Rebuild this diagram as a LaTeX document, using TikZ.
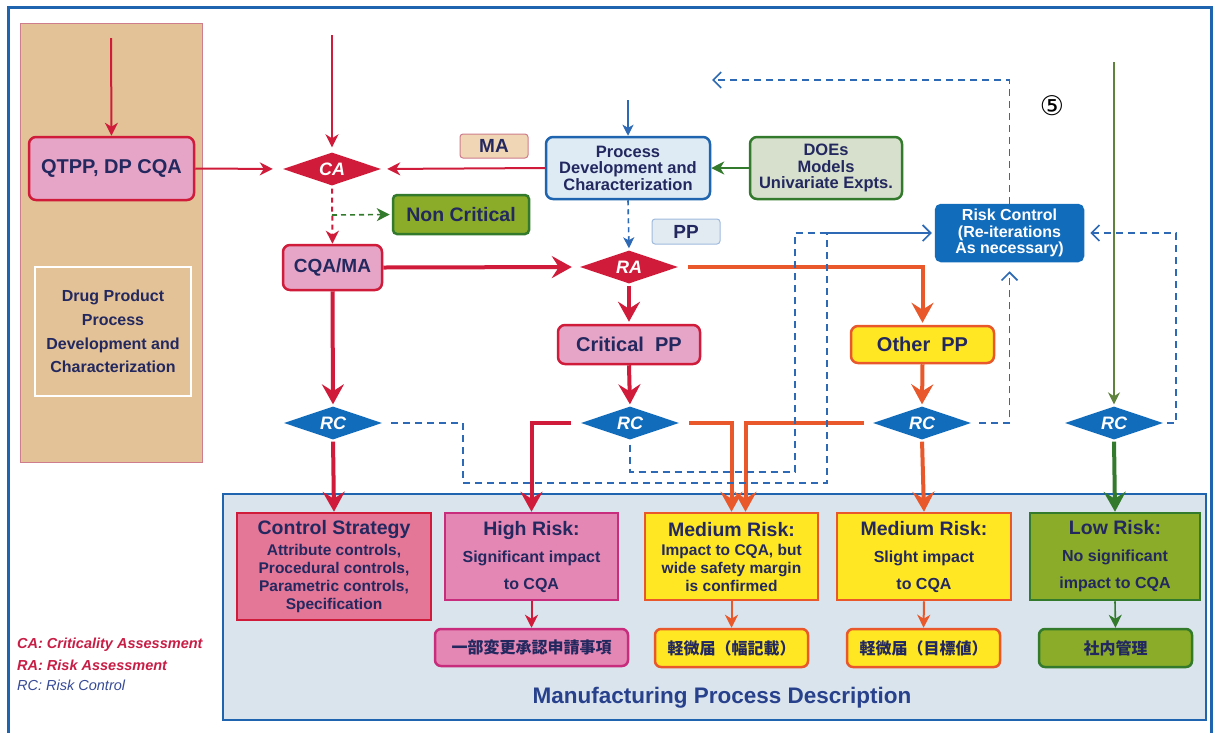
\documentclass[tikz,border=0pt]{standalone}
\usepackage{fontspec}
\setmainfont{Liberation Sans}
\newfontfamily\jpfont{Noto Sans CJK JP}
\newfontfamily\symfont{DejaVu Sans}
\usetikzlibrary{arrows.meta,shapes.geometric}

\definecolor{frameblue}{RGB}{30,100,175}
\definecolor{navy}{RGB}{35,40,95}
\definecolor{cred}{RGB}{208,28,58}
\definecolor{cpink}{RGB}{230,165,198}
\definecolor{cpinkdeep}{RGB}{228,118,152}
\definecolor{cpinkhigh}{RGB}{228,135,180}
\definecolor{cmagenta}{RGB}{200,45,125}
\definecolor{ctan}{RGB}{226,194,150}
\definecolor{ctanborder}{RGB}{205,125,140}
\definecolor{ctanlabel}{RGB}{240,214,180}
\definecolor{cyellow}{RGB}{255,232,35}
\definecolor{corange}{RGB}{232,88,42}
\definecolor{colive}{RGB}{138,172,40}
\definecolor{cdkgreen}{RGB}{52,122,45}
\definecolor{cthingreen}{RGB}{95,130,60}
\definecolor{cltblue}{RGB}{222,235,245}
\definecolor{cppblue}{RGB}{226,235,242}
\definecolor{cgreygreen}{RGB}{214,224,204}
\definecolor{cboxblue}{RGB}{18,108,188}
\definecolor{cdash}{RGB}{45,105,180}
\definecolor{cpanel}{RGB}{218,228,236}
\definecolor{ctitle}{RGB}{40,65,140}
\definecolor{clegred}{RGB}{200,30,70}
\definecolor{clegblue}{RGB}{55,75,150}

\tikzset{
  box/.style={draw, line width=2.5pt, inner sep=0pt, align=center, text=navy,
    font=\bfseries\fontsize{20}{22}\selectfont},
  rbox/.style={box, rounded corners=7pt},
  pinkbox/.style={rbox, draw=cred, fill=cpink},
  tag/.style={draw, line width=1pt, rounded corners=3pt, inner sep=0pt, text=navy,
    font=\bfseries\fontsize{19}{20}\selectfont},
  dia/.style={diamond, aspect=3, inner sep=0pt, minimum width=98pt, minimum height=33pt,
    text=white, font=\bfseries\itshape\fontsize{18}{18}\selectfont},
  redDia/.style={dia, fill=cred},
  blueDia/.style={dia, fill=cboxblue},
  jpbox/.style={box, rounded corners=6pt, font=\jpfont\bfseries\fontsize{16}{18}\selectfont},
  bigtip/.style={-{Stealth[length=20pt,width=22pt,inset=7pt]}},
  smalltip/.style={-{Stealth[length=13pt,width=13pt,inset=4pt]}},
  thickred/.style={draw=cred, line width=4pt, bigtip},
  thickorange/.style={draw=corange, line width=4pt, bigtip},
  thickgreen/.style={draw=cdkgreen, line width=4pt, bigtip},
  thinred/.style={draw=cred, line width=2pt, smalltip},
  thinorange/.style={draw=corange, line width=2pt, smalltip},
  thingreen/.style={draw=cdkgreen, line width=1.6pt, smalltip},
  thinblue/.style={draw=cdash, line width=1.6pt, -{Stealth[length=11pt,width=11pt,inset=3pt]}},
  bluedash/.style={draw=cdash, line width=1.6pt, dash pattern=on 7pt off 5pt},
  barb/.style={-{Straight Barb[length=8pt,width=16pt]}},
}

\begin{document}
\begin{tikzpicture}[x=1pt,y=-1pt]
\useasboundingbox (0,0) rectangle (1216,732);
\fill[white] (0,0) rectangle (1216,732);

% left development panel
\node[draw=ctanborder, line width=0.8pt, fill=ctan, minimum width=182pt, minimum height=439pt, inner sep=0pt] (side) at (111,242.5) {};
\node[draw=white, line width=2pt, minimum width=156pt, minimum height=129pt, inner sep=0pt, align=center, text=navy,
  font=\bfseries\fontsize{16}{23.7}\selectfont] (dpbox) at (113,331.5)
  {Drug Product\\Process\\Development and\\Characterization};

% manufacturing process description panel
\node[draw=frameblue, line width=2.5pt, fill=cpanel, minimum width=983pt, minimum height=226pt, inner sep=0pt] (mpd) at (714.5,607) {};
\node[text=ctitle, font=\bfseries\fontsize{22.5}{24}\selectfont, inner sep=0pt] (mpdtitle) at (722,698) {Manufacturing Process Description};

% outer frame
\draw[frameblue, line width=3pt] (8,7) rectangle (1211,740);

% upper flow
\node[pinkbox, minimum width=165pt, minimum height=63pt] (qtpp) at (111.5,168.5) {QTPP, DP CQA};
\node[redDia] (ca) at (332,169) {CA};
\node[tag, draw=ctanborder, fill=ctanlabel, minimum width=68pt, minimum height=24pt] (ma) at (494,146) {MA};
\node[rbox, draw=frameblue, fill=cltblue, minimum width=164pt, minimum height=62pt,
  font=\bfseries\fontsize{16.5}{16.6}\selectfont] (pdc) at (628,168) {Process\\Development and\\Characterization};
\node[rbox, draw=cdkgreen, fill=cgreygreen, minimum width=152pt, minimum height=62pt,
  font=\bfseries\fontsize{16.5}{16.6}\selectfont] (does) at (826,168) {DOEs\\Models\\Univariate Expts.};
\node[box, rounded corners=4pt, draw=cdkgreen, fill=colive, minimum width=136pt, minimum height=39pt,
  font=\bfseries\fontsize{19.5}{20}\selectfont] (noncrit) at (461,214.5) {Non Critical};
\node[pinkbox, minimum width=99pt, minimum height=45pt, font=\bfseries\fontsize{19}{20}\selectfont] (cqama) at (332.5,267.5) {CQA/MA};
\node[redDia] (ra) at (629,267) {RA};
\node[tag, draw=cdash!45, fill=cppblue, minimum width=68pt, minimum height=25pt] (pp) at (686,231.5) {PP};
\node[pinkbox, minimum width=142pt, minimum height=39pt] (critpp) at (629,344.5) {Critical~~PP};
\node[rbox, draw=corange, fill=cyellow, minimum width=143pt, minimum height=37pt] (otherpp) at (922.5,344.5) {Other~~PP};
\node[box, rounded corners=5pt, draw=cboxblue, fill=cboxblue, text=white, minimum width=147pt, minimum height=56pt,
  font=\bfseries\fontsize{16}{16.6}\selectfont] (riskctl) at (1009.5,233) {Risk Control\\(Re-iterations\\As necessary)};
\node[font=\symfont\fontsize{27}{27}\selectfont, inner sep=0pt] (five) at (1052,106) {⑤};

% risk control diamonds
\node[blueDia] (rc1) at (333,423) {RC};
\node[blueDia] (rc2) at (630,423) {RC};
\node[blueDia] (rc3) at (922,423) {RC};
\node[blueDia] (rc4) at (1114,423) {RC};

% outcome boxes
\node[box, draw=cred, fill=cpinkdeep, minimum width=194pt, minimum height=107pt,
  font=\bfseries\fontsize{15.5}{18}\selectfont] (ctrl) at (334,566.5)
  {{\fontsize{19.5}{20}\selectfont Control Strategy}\\[3pt]Attribute controls,\\Procedural controls,\\Parametric controls,\\Specification};
\node[box, draw=cmagenta, fill=cpinkhigh, minimum width=173pt, minimum height=87pt,
  font=\bfseries\fontsize{16}{27}\selectfont] (high) at (531.5,556.5)
  {{\fontsize{19.5}{20}\selectfont High Risk:}\\Significant impact\\to CQA};
\node[box, draw=corange, fill=cyellow, minimum width=173pt, minimum height=87pt,
  font=\bfseries\fontsize{15.5}{18}\selectfont] (med1) at (731.5,556.5)
  {{\fontsize{19.5}{20}\selectfont Medium Risk:}\\[1pt]Impact to CQA, but\\wide safety margin\\is confirmed};
\node[box, draw=corange, fill=cyellow, minimum width=174pt, minimum height=87pt,
  font=\bfseries\fontsize{16}{27}\selectfont] (med2) at (924,556.5)
  {{\fontsize{19.5}{20}\selectfont Medium Risk:}\\Slight impact\\to CQA};
\node[box, draw=cdkgreen, fill=colive, minimum width=170pt, minimum height=87pt,
  font=\bfseries\fontsize{16}{27}\selectfont] (low) at (1115,556.5)
  {{\fontsize{19.5}{20}\selectfont Low Risk:}\\No significant\\impact to CQA};

\node[jpbox, draw=cmagenta, fill=cpinkhigh, minimum width=193pt, minimum height=37pt] (jp1) at (531.5,647.5) {一部変更承認申請事項};
\node[jpbox, draw=corange, fill=cyellow, minimum width=153pt, minimum height=38pt] (jp2) at (731.5,648) {軽微届（幅記載）};
\node[jpbox, draw=corange, fill=cyellow, minimum width=153pt, minimum height=38pt] (jp3) at (923.5,648) {軽微届（目標値）};
\node[jpbox, draw=cdkgreen, fill=colive, minimum width=153pt, minimum height=38pt] (jp4) at (1115.5,648) {社内管理};

% legend
\node[anchor=west, inner sep=0pt, text=clegred, font=\bfseries\itshape\fontsize{14.5}{16}\selectfont] (legca) at (17,645) {CA: Criticality Assessment};
\node[anchor=west, inner sep=0pt, text=clegred, font=\bfseries\itshape\fontsize{14.5}{16}\selectfont] (legra) at (17,665) {RA: Risk Assessment};
\node[anchor=west, inner sep=0pt, text=clegblue, font=\itshape\fontsize{14.5}{16}\selectfont] (legrc) at (17,685) {RC: Risk Control};

% free ends of incoming connectors
\coordinate (qtop) at (111,38);
\coordinate (catop) at (332,35);
\coordinate (pdtop) at (628,100);
\coordinate (lowtop) at (1114,62);
\coordinate (ncsplit) at (332,215);
\coordinate (fbend) at (712,80);
\coordinate (rcjoin) at (827,233);

% incoming connectors
\draw[thinred] (qtop) -- (qtpp.north);
\draw[thinred, shorten >=5pt] (catop) -- (ca.north);
\draw[thinblue] (pdtop) -- (pdc.north);
\draw[draw=cthingreen, line width=1.1pt, -{Stealth[length=12pt,width=12pt,inset=4pt]}, shorten >=2pt] (lowtop) -- (rc4.north);

% criticality assessment
\draw[thinred, shorten >=10pt] (qtpp.east) -- (ca.west);
\draw[thinred, shorten >=6pt] (pdc.west) -- (ca.east);
\draw[thingreen] (does.west) -- (pdc.east);
\draw[thinred, dash pattern=on 5pt off 4pt, shorten <=3pt] (ca.south) -- (cqama.north);
\draw[thingreen, dash pattern=on 5pt off 4pt, shorten >=2pt] (ncsplit) -- (noncrit.west);
\draw[thinblue, dash pattern=on 5pt off 4pt, shorten >=2pt] (pdc.south) -- (ra.north);

% risk assessment
\draw[thickred, shorten >=8pt] (cqama.east) -- (ra.west);
\draw[thickred, shorten <=2pt, shorten >=2pt] (ra.south) -- (critpp.north);
\draw[thickorange, shorten >=2pt] ([xshift=10pt]ra.east) -| (otherpp.north);
\draw[thickred, shorten >=2pt] (cqama.south) -- (rc1.north);
\draw[thickred, shorten >=2pt] (critpp.south) -- (rc2.north);
\draw[thickorange, shorten >=2pt] (otherpp.south) -- (rc3.north);

% risk control outcomes
\draw[thickred, shorten <=2pt] (rc1.south) -- (ctrl.north);
\draw[thickred] ([xshift=-10pt]rc2.west) -| (high.north);
\draw[thickorange] ([xshift=10pt]rc2.east) -| (med1.north);
\draw[thickorange] ([xshift=-9pt]rc3.west) -| ([xshift=14pt]med1.north);
\draw[thickorange, shorten <=2pt] (rc3.south) -- (med2.north);
\draw[thickgreen, shorten <=2pt] (rc4.south) -- (low.north);

\draw[thinred] (high.south) -- (jp1.north);
\draw[thinorange] (med1.south) -- (jp2.north);
\draw[thinorange] (med2.south) -- (jp3.north);
\draw[thingreen] (low.south) -- (jp4.north);

% re-iteration loops
\draw[bluedash, barb] (riskctl.north) |- (fbend);
\draw[bluedash] ([xshift=9pt]rc1.east) -| (463,483) -| (rcjoin);
\draw[bluedash] ([yshift=-5pt]rc2.south) |- (795,472) |- (rcjoin);
\draw[draw=cdash, line width=1.6pt, barb, shorten >=3pt] (rcjoin) -- (riskctl.west);
\draw[bluedash, barb, shorten >=9pt] ([xshift=8pt]rc3.east) -| (riskctl.south);
\draw[bluedash, barb, shorten >=6pt] ([xshift=4pt]rc4.east) -| (1176,233) -- (riskctl.east);
\end{tikzpicture}
\end{document}
